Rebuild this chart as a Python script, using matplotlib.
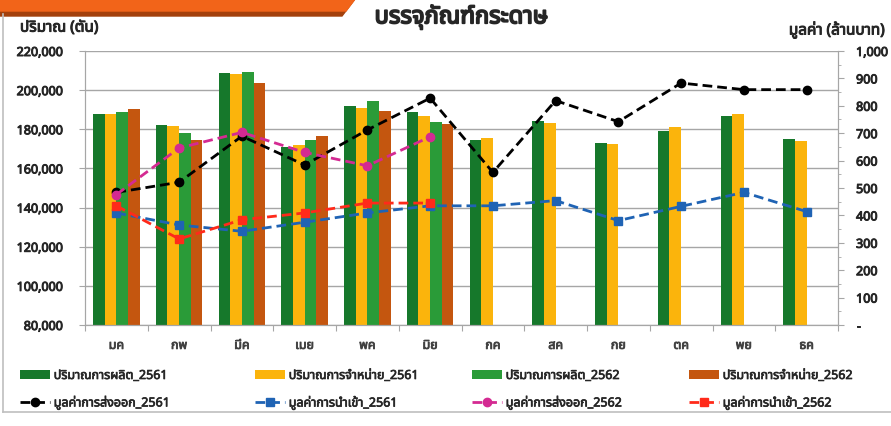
import numpy as np
import matplotlib
matplotlib.use("Agg")
import matplotlib.pyplot as plt
import matplotlib.patheffects as pe
from matplotlib.patches import Polygon
from matplotlib.lines import Line2D
from matplotlib.ticker import FuncFormatter, MultipleLocator

plt.rcParams['font.family'] = ['Noto Sans Thai', 'Loma', 'Garuda', 'Tahoma', 'Noto Sans', 'DejaVu Sans']

months = ["มค", "กพ", "มีค", "เมย", "พค", "มิย", "กค", "สค", "กย", "ตค", "พย", "ธค"]

# quantities (tonnes), left axis
prod_2561 = [187900, 182000, 208700, 170900, 191700, 188800, 174300, 184000, 172900, 178900, 186800, 175100]
sale_2561 = [187700, 181600, 208400, 172100, 190800, 186700, 175500, 183300, 172600, 181400, 187900, 173800]
prod_2562 = [188800, 178200, 209200, 174300, 194400, 183700]
sale_2562 = [190500, 174300, 203800, 176800, 189100, 182800]

# values (million baht), right axis
export_2561 = [484, 521, 689, 584, 712, 828, 557, 819, 742, 883, 859, 859]
import_2561 = [409, 365, 342, 375, 409, 435, 435, 454, 381, 433, 484, 414]
export_2562 = [476, 646, 703, 630, 581, 687]
import_2562 = [435, 314, 384, 409, 445, 445]

bar_labels = ["ปริมาณการผลิต_2561", "ปริมาณการจำหน่าย_2561", "ปริมาณการผลิต_2562", "ปริมาณการจำหน่าย_2562"]
line_labels = ["มูลค่าการส่งออก_2561", "มูลค่าการนำเข้า_2561", "มูลค่าการส่งออก_2562", "มูลค่าการนำเข้า_2562"]

bar_colors = ["#16782B", "#FBB40C", "#2A9B38", "#C4560F"]
line_colors = ["#000000", "#1F63B4", "#D42A92", "#FF2A1A"]
line_markers = ["o", "s", "o", "s"]

bold = [pe.withStroke(linewidth=0.7, foreground="#262626")]

fig = plt.figure(figsize=(8.91, 4.27), dpi=100)
W, H = 891, 427

# chart frame
fig.add_artist(Line2D([3 / W, 3 / W], [1 - 15 / H, 1 - 413 / H], color="#BFBFBF", lw=1.2))
fig.add_artist(Line2D([3 / W, 1], [1 - 413 / H, 1 - 413 / H], color="#BFBFBF", lw=1.2))

# orange banner at the top left
fig.add_artist(Polygon([(0, 1), (355 / W, 1), (342 / W, 1 - 17 / H), (0, 1 - 17 / H)],
                       closed=True, transform=fig.transFigure, color="#A3400C", zorder=1))
fig.add_artist(Polygon([(0, 1), (355 / W, 1), (346 / W, 1 - 12 / H), (0, 1 - 12 / H)],
                       closed=True, transform=fig.transFigure, color="#F26419", zorder=2))

ax = fig.add_axes([85 / W, 1 - 326 / H, 753 / W, 274 / H])
ax2 = ax.twinx()

x = np.arange(len(months))
bw = 0.186
groups = [prod_2561, sale_2561, prod_2562, sale_2562]
for i, (vals, c, lab) in enumerate(zip(groups, bar_colors, bar_labels)):
    xi = x[:len(vals)] + (i - 1.5) * bw
    ax.bar(xi, vals, width=bw, color=c, label=lab, zorder=2)

series = [export_2561, import_2561, export_2562, import_2562]
for vals, c, m, lab in zip(series, line_colors, line_markers, line_labels):
    ax2.plot(x[:len(vals)], vals, color=c, lw=2.0, ls=(0, (3.5, 1.8)), marker=m, ms=6,
             label=lab, zorder=3)

ax.set_xlim(-0.5, 11.5)
ax.set_ylim(80000, 220000)
ax.yaxis.set_major_locator(MultipleLocator(20000))
ax.yaxis.set_major_formatter(FuncFormatter(lambda v, p: f"{int(v):,}"))
ax.grid(axis="y", color="#A6A6A6", lw=1, zorder=0)
ax.set_axisbelow(True)
ax.set_xticks(np.arange(-0.5, 12, 1))
ax.set_xticklabels([])
ax.set_xticks(x, minor=True)
ax.set_xticklabels(months, minor=True, fontsize=9, color="#404040")
ax.tick_params(axis="x", which="major", length=4, color="#A6A6A6", direction="out")
ax.tick_params(axis="x", which="minor", length=0, pad=10)

ax2.set_ylim(0, 1000)
ax2.yaxis.set_major_locator(MultipleLocator(100))
ax2.yaxis.set_minor_locator(MultipleLocator(50))
ax2.yaxis.set_major_formatter(FuncFormatter(lambda v, p: "-" if v == 0 else f"{int(v):,}"))
ax2.tick_params(axis="y", which="minor", length=2, color="#A6A6A6")

for a in (ax, ax2):
    for s in a.spines.values():
        s.set_color("#A6A6A6")
    a.spines["top"].set_visible(False)
    a.tick_params(axis="y", which="major", length=4, color="#A6A6A6", labelsize=9, labelcolor="#262626")
    for t in a.get_yticklabels():
        t.set_path_effects(bold)
for t in ax.get_xticklabels(minor=True):
    t.set_path_effects([pe.withStroke(linewidth=0.6, foreground="#404040")])
ax.tick_params(axis="y", pad=12)
ax2.tick_params(axis="y", pad=9)

t1 = fig.text(461 / W, 1 - 18 / H, "บรรจุภัณฑ์กระดาษ", ha="center", va="center",
              fontsize=17, color="#262626")
t1.set_path_effects([pe.withStroke(linewidth=1.3, foreground="#262626")])
t2 = fig.text(20 / W, 1 - 29 / H, "ปริมาณ (ตัน)", ha="left", va="center",
              fontsize=11, color="#262626")
t3 = fig.text(885 / W, 1 - 31 / H, "มูลค่า (ล้านบาท)", ha="right", va="center",
              fontsize=11, color="#262626")
for t in (t2, t3):
    t.set_path_effects(bold)

bh, bl = ax.get_legend_handles_labels()
lh, ll = ax2.get_legend_handles_labels()
col_x = [20, 255, 472, 689]
for i in range(4):
    leg = fig.legend([bh[i], lh[i]], [bl[i], ll[i]], loc="upper left",
                     bbox_to_anchor=(col_x[i] / W, 1 - 370 / H), frameon=False,
                     fontsize=9, handlelength=2.4, handletextpad=0.3, labelspacing=1.1,
                     borderpad=0, borderaxespad=0)
    for t in leg.get_texts():
        t.set_color("#262626")
        t.set_path_effects([pe.withStroke(linewidth=0.5, foreground="#262626")])

fig.savefig("out.png", dpi=100)
